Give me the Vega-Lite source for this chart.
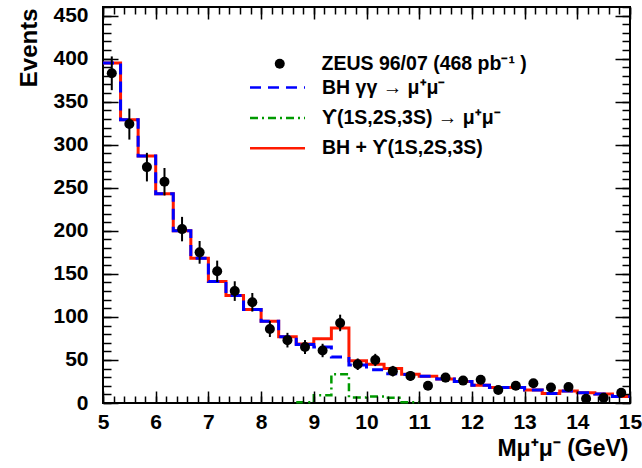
{
  "$schema": "https://vega.github.io/schema/vega-lite/v6.json",
  "autosize": "none",
  "width": 527,
  "height": 396,
  "padding": {"left": 103, "top": 7, "right": 12, "bottom": 65},
  "background": "white",
  "datasets": {
    "tot": [
      {"m": 5, "n": 395}, {"m": 5.3333, "n": 329}, {"m": 5.6667, "n": 287}, {"m": 6, "n": 243},
      {"m": 6.3333, "n": 200}, {"m": 6.6667, "n": 168}, {"m": 7, "n": 141}, {"m": 7.3333, "n": 125},
      {"m": 7.6667, "n": 108.5}, {"m": 8, "n": 95}, {"m": 8.3333, "n": 77}, {"m": 8.6667, "n": 68.5},
      {"m": 9, "n": 74.5}, {"m": 9.3333, "n": 87}, {"m": 9.6667, "n": 49}, {"m": 10, "n": 45},
      {"m": 10.3333, "n": 40}, {"m": 10.6667, "n": 33.5}, {"m": 11, "n": 31}, {"m": 11.3333, "n": 28},
      {"m": 11.6667, "n": 25}, {"m": 12, "n": 20.5}, {"m": 12.3333, "n": 18}, {"m": 12.6667, "n": 18},
      {"m": 13, "n": 15}, {"m": 13.3333, "n": 11}, {"m": 13.6667, "n": 14}, {"m": 14, "n": 12},
      {"m": 14.3333, "n": 10.5}, {"m": 14.6667, "n": 7.5}, {"m": 15, "n": 7.5}
    ],
    "bh": [
      {"m": 5, "n": 395}, {"m": 5.3333, "n": 329}, {"m": 5.6667, "n": 287}, {"m": 6, "n": 243},
      {"m": 6.3333, "n": 200}, {"m": 6.6667, "n": 168}, {"m": 7, "n": 141}, {"m": 7.3333, "n": 125},
      {"m": 7.6667, "n": 108.5}, {"m": 8, "n": 95}, {"m": 8.3333, "n": 77}, {"m": 8.6667, "n": 68},
      {"m": 9, "n": 65}, {"m": 9.3333, "n": 53.5}, {"m": 9.6667, "n": 44}, {"m": 10, "n": 38.5},
      {"m": 10.3333, "n": 34}, {"m": 10.6667, "n": 33}, {"m": 11, "n": 31}, {"m": 11.3333, "n": 28},
      {"m": 11.6667, "n": 25}, {"m": 12, "n": 20.5}, {"m": 12.3333, "n": 18}, {"m": 12.6667, "n": 18},
      {"m": 13, "n": 15}, {"m": 13.3333, "n": 11}, {"m": 13.6667, "n": 14}, {"m": 14, "n": 12},
      {"m": 14.3333, "n": 10.5}, {"m": 14.6667, "n": 7.5}, {"m": 15, "n": 7.5}
    ],
    "ups": [
      {"m": 8.6667, "n": 0.8}, {"m": 9, "n": 9}, {"m": 9.3333, "n": 33.5}, {"m": 9.6667, "n": 6.5},
      {"m": 10, "n": 7.5}, {"m": 10.3333, "n": 6}, {"m": 10.6667, "n": 0.8}, {"m": 11, "n": 0.8}
    ],
    "pts": [
      {"m": 5.1667, "n": 383, "lo": 363.4, "hi": 402.6},
      {"m": 5.5, "n": 324, "lo": 306, "hi": 342},
      {"m": 5.8333, "n": 274, "lo": 257.4, "hi": 290.6},
      {"m": 6.1667, "n": 257, "lo": 241, "hi": 273},
      {"m": 6.5, "n": 202, "lo": 187.8, "hi": 216.2},
      {"m": 6.8333, "n": 175, "lo": 161.8, "hi": 188.2},
      {"m": 7.1667, "n": 153, "lo": 140.6, "hi": 165.4},
      {"m": 7.5, "n": 130, "lo": 118.6, "hi": 141.4},
      {"m": 7.8333, "n": 117, "lo": 106.2, "hi": 127.8},
      {"m": 8.1667, "n": 86, "lo": 76.7, "hi": 95.3},
      {"m": 8.5, "n": 73, "lo": 64.5, "hi": 81.5},
      {"m": 8.8333, "n": 65, "lo": 56.9, "hi": 73.1},
      {"m": 9.1667, "n": 61, "lo": 53.2, "hi": 68.8},
      {"m": 9.5, "n": 93, "lo": 83.4, "hi": 102.6},
      {"m": 9.8333, "n": 45, "lo": 38.3, "hi": 51.7},
      {"m": 10.1667, "n": 50, "lo": 42.9, "hi": 57.1},
      {"m": 10.5, "n": 37, "lo": 30.9, "hi": 43.1},
      {"m": 10.8333, "n": 31.5, "lo": 25.9, "hi": 37.1},
      {"m": 11.1667, "n": 20, "lo": 15.5, "hi": 24.5},
      {"m": 11.5, "n": 29.5, "lo": 24.1, "hi": 34.9},
      {"m": 11.8333, "n": 26, "lo": 20.9, "hi": 31.1},
      {"m": 12.1667, "n": 27, "lo": 21.8, "hi": 32.2},
      {"m": 12.5, "n": 15, "lo": 11.1, "hi": 18.9},
      {"m": 12.8333, "n": 20, "lo": 15.5, "hi": 24.5},
      {"m": 13.1667, "n": 23, "lo": 18.2, "hi": 27.8},
      {"m": 13.5, "n": 18, "lo": 13.8, "hi": 22.2},
      {"m": 13.8333, "n": 18.5, "lo": 14.2, "hi": 22.8},
      {"m": 14.1667, "n": 5, "lo": 2.8, "hi": 7.2},
      {"m": 14.5, "n": 6, "lo": 3.6, "hi": 8.4},
      {"m": 14.8333, "n": 12, "lo": 8.5, "hi": 15.5}
    ]
  },
  "resolve": {"axis": {"x": "independent", "y": "independent"}},
  "layer": [
    {
      "data": {"name": "ups"},
      "mark": {"type": "line", "interpolate": "step-after", "strokeWidth": 2.5},
      "encoding": {
        "x": {"field": "m", "type": "quantitative", "scale": {"domain": [5, 15], "nice": false, "zero": false},
          "axis": {"orient": "bottom", "ticks": true, "zindex": 1, "grid": false, "labels": false, "title": null, "domain": false, "offset": -7, "tickSize": 7,
            "tickCount": 50,
            "tickColor": "black", "tickOpacity": 1, "tickWidth": 1.5}},
        "y": {"field": "n", "type": "quantitative", "scale": {"domain": [0, 460], "nice": false},
          "axis": {"orient": "left", "ticks": true, "zindex": 1, "grid": false, "labels": false, "title": null, "domain": false, "offset": -8, "tickSize": 8,
            "tickCount": 46,
            "tickColor": "black", "tickOpacity": 1, "tickWidth": 1.5}},
        "color": {"datum": "ϒ(1S,2S,3S) → μ⁺μ⁻", "type": "nominal",
          "scale": {"domain": ["BH γγ → μ⁺μ⁻", "ϒ(1S,2S,3S) → μ⁺μ⁻", "BH + ϒ(1S,2S,3S)"], "range": ["#0000ff", "#009a00", "#ff1a00"]},
          "legend": {"orient": "none", "legendX": 163, "legendY": 69, "title": null, "padding": 0, "symbolType": "M-2.75,0H2.75", "symbolSize": 400, "symbolStrokeWidth": 2.5, "symbolFillColor": "transparent", "labelFontSize": 19.5, "labelFontWeight": "bold", "labelFont": "Liberation Sans", "labelColor": "black", "labelOffset": 33, "rowPadding": 9.4, "labelLimit": 400}},
        "strokeDash": {"datum": "ϒ(1S,2S,3S) → μ⁺μ⁻", "type": "nominal",
          "scale": {"domain": ["BH γγ → μ⁺μ⁻", "ϒ(1S,2S,3S) → μ⁺μ⁻", "BH + ϒ(1S,2S,3S)"], "range": [[11, 7], [8, 4, 2, 4], [1, 0]]},
          "legend": {"orient": "none", "legendX": 163, "legendY": 69, "title": null, "padding": 0, "symbolType": "M-2.75,0H2.75", "symbolSize": 400, "symbolStrokeWidth": 2.5, "symbolFillColor": "transparent", "labelFontSize": 19.5, "labelFontWeight": "bold", "labelFont": "Liberation Sans", "labelColor": "black", "labelOffset": 33, "rowPadding": 9.4, "labelLimit": 400}}
      }
    },
    {
      "data": {"name": "tot"},
      "mark": {"type": "line", "interpolate": "step-after", "strokeWidth": 3},
      "encoding": {
        "x": {"field": "m", "type": "quantitative", "scale": {"domain": [5, 15], "nice": false, "zero": false},
          "axis": {"orient": "bottom", "ticks": true, "zindex": 1, "grid": false, "domain": false, "offset": -12, "tickSize": 12,
            "tickCount": 10, "format": "d",
            "tickColor": "black", "tickOpacity": 1, "tickWidth": 1.5,
            "labelFont": "Liberation Sans", "labelFontSize": 21, "labelFontWeight": "bold", "labelColor": "black",
            "labelPadding": 8, "labelFlush": false, "labelOverlap": false,
            "title": "Mμ⁺μ⁻ (GeV)", "titleFont": "Liberation Sans", "titleFontSize": 23, "titleFontWeight": "bold", "titleColor": "black",
            "titleAnchor": "end", "titleAlign": "right", "titleBaseline": "alphabetic", "titleX": 525, "titleY": 64}},
        "y": {"field": "n", "type": "quantitative", "scale": {"domain": [0, 460], "nice": false},
          "axis": {"orient": "left", "ticks": true, "zindex": 1, "grid": false, "domain": false, "offset": -15, "tickSize": 15,
            "tickCount": 9, "format": "d",
            "tickColor": "black", "tickOpacity": 1, "tickWidth": 1.5,
            "labelFont": "Liberation Sans", "labelFontSize": 21, "labelFontWeight": "bold", "labelColor": "black",
            "labelPadding": 15, "labelFlush": false, "labelOverlap": false,
            "title": "Events", "titleFont": "Liberation Sans", "titleFontSize": 24, "titleFontWeight": "bold", "titleColor": "black",
            "titleAngle": -90, "titleAnchor": "end", "titleAlign": "right", "titleBaseline": "top", "titleX": -101, "titleY": 1}},
        "color": {"datum": "BH + ϒ(1S,2S,3S)", "type": "nominal"},
        "strokeDash": {"datum": "BH + ϒ(1S,2S,3S)", "type": "nominal"}
      }
    },
    {
      "data": {"name": "bh"},
      "mark": {"type": "line", "interpolate": "step-after", "strokeWidth": 3},
      "encoding": {
        "x": {"field": "m", "type": "quantitative", "scale": {"domain": [5, 15], "nice": false, "zero": false},
          "axis": {"orient": "top", "ticks": true, "zindex": 1, "grid": false, "labels": false, "title": null, "domain": false, "offset": -12, "tickSize": 12,
            "tickCount": 10,
            "tickColor": "black", "tickOpacity": 1, "tickWidth": 1.5}},
        "y": {"field": "n", "type": "quantitative", "scale": {"domain": [0, 460], "nice": false},
          "axis": {"orient": "right", "ticks": true, "zindex": 1, "grid": false, "labels": false, "title": null, "domain": false, "offset": -15, "tickSize": 15,
            "tickCount": 9,
            "tickColor": "black", "tickOpacity": 1, "tickWidth": 1.5}},
        "color": {"datum": "BH γγ → μ⁺μ⁻", "type": "nominal"},
        "strokeDash": {"datum": "BH γγ → μ⁺μ⁻", "type": "nominal"}
      }
    },
    {
      "data": {"name": "pts"},
      "mark": {"type": "rule", "color": "black", "strokeWidth": 2},
      "encoding": {
        "x": {"field": "m", "type": "quantitative", "scale": {"domain": [5, 15], "nice": false, "zero": false},
          "axis": {"orient": "top", "ticks": true, "zindex": 1, "grid": false, "labels": false, "title": null, "domain": false, "offset": -7, "tickSize": 7,
            "tickCount": 50,
            "tickColor": "black", "tickOpacity": 1, "tickWidth": 1.5}},
        "y": {"field": "lo", "type": "quantitative", "scale": {"domain": [0, 460], "nice": false},
          "axis": {"orient": "right", "ticks": true, "zindex": 1, "grid": false, "labels": false, "title": null, "domain": false, "offset": -8, "tickSize": 8,
            "tickCount": 46,
            "tickColor": "black", "tickOpacity": 1, "tickWidth": 1.5}},
        "y2": {"field": "hi"}
      }
    },
    {
      "data": {"name": "pts"},
      "mark": {"type": "point", "filled": true, "color": "black", "opacity": 1, "size": 100},
      "encoding": {
        "x": {"field": "m", "type": "quantitative", "axis": null},
        "y": {"field": "n", "type": "quantitative", "axis": null},
        "shape": {"datum": "ZEUS 96/07 (468 pb⁻¹ )", "type": "nominal",
          "scale": {"domain": ["ZEUS 96/07 (468 pb⁻¹ )"], "range": ["circle"]},
          "legend": {"orient": "none", "legendX": 167, "legendY": 47, "title": null, "padding": 0, "symbolSize": 100, "symbolFillColor": "black", "symbolStrokeColor": "black", "symbolOpacity": 1, "labelFontSize": 19.5, "labelFontWeight": "bold", "labelFont": "Liberation Sans", "labelColor": "black", "labelOffset": 32, "labelLimit": 400}}
      }
    }
  ],
  "config": {
    "font": "Liberation Sans",
    "view": {"stroke": "black", "strokeWidth": 2},
    "axis": {"ticks": true}
  }
}
